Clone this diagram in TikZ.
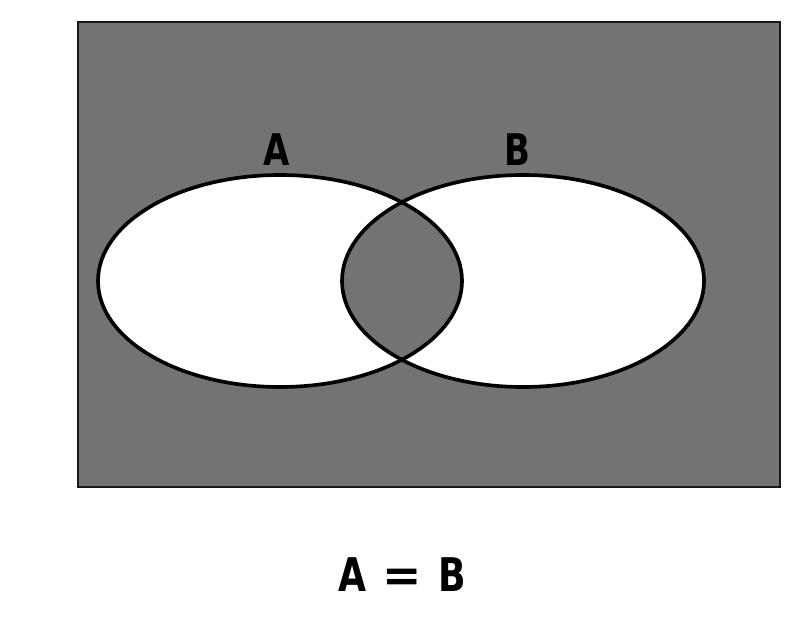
\documentclass[tikz,border=0pt]{standalone}
\usepackage{fontspec}
\newfontfamily\labelfont[FakeStretch=0.78]{DejaVu Sans}
\usetikzlibrary{positioning}
\tikzset{
  setfill/.style={fill=white},
  shade/.style={fill=black!55},
  setline/.style={draw=black, line width=2.6pt},
  setlabel/.style={font=\labelfont\bfseries\fontsize{31}{31}\selectfont, text=black, inner sep=0pt}
}
\begin{document}
\begin{tikzpicture}[x=0.025cm, y=-0.025cm]
        \useasboundingbox (0,0) rectangle (800,630);
        % universe
        \path[shade, draw=black!90, line width=1.4pt] (78,22) rectangle (780,487);
        \coordinate (ca) at (280,281);
        \coordinate (cb) at (523,281);
        % the two sets
        \path[setfill] (ca) ellipse [x radius=182, y radius=106];
        \path[setfill] (cb) ellipse [x radius=181, y radius=106];
        % common part
        \begin{scope}
            \clip (ca) ellipse [x radius=182, y radius=106];
            \path[shade] (cb) ellipse [x radius=181, y radius=106];
        \end{scope}
        \draw[setline] (ca) ellipse [x radius=182, y radius=106];
        \draw[setline] (cb) ellipse [x radius=181, y radius=106];
        
        \node[setlabel] (la) at (277,150) {A};
        \node[setlabel] (lb) at (517,150) {B};
        \node[setlabel, font=\labelfont\bfseries\fontsize{33}{33}\selectfont] (eq) at (402,575) {A\hspace{0.35em}\scalebox{1.3}[1]{=}\hspace{0.35em}B};
    \end{tikzpicture}
\end{document}
